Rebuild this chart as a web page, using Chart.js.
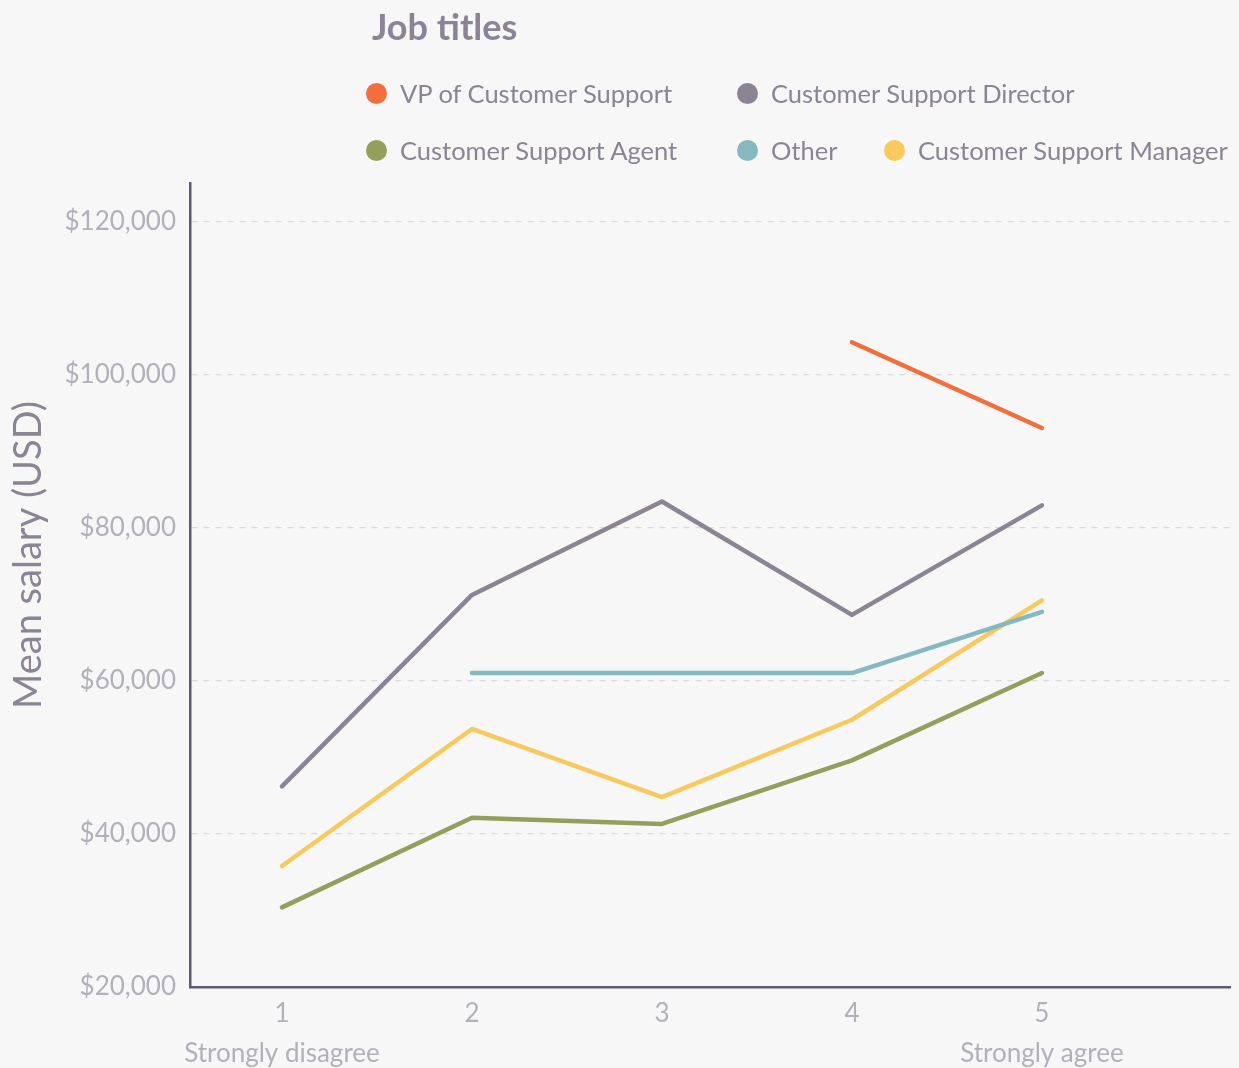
<!DOCTYPE html>
<html lang="en">
<head>
    <title>Mean salary by job title</title>
    <script src="https://cdn.jsdelivr.net/npm/chart.js@4/dist/chart.umd.min.js"></script>
    <style>
        body { margin: 0; background: #f7f7f7; font-family: Lato, "Open Sans", sans-serif; }
        .wrap { position: relative; width: 1239px; height: 1068px; }
        #salaryChart { position: absolute; left: 0; top: 0; }
        .legend-title { position: absolute; left: 372px; top: 4px; font-size: 36px; font-weight: 700; color: #8a8494; }
        .legend { position: absolute; left: 366px; top: 76px; display: grid;
                  grid-template-columns: 371px 147px auto; row-gap: 23px; }
        .legend .item { display: flex; align-items: center; font-size: 25.5px; color: #8a8494; white-space: nowrap; height: 34px; }
        .legend .item.wide { grid-column: span 2; }
        .legend .dot { width: 21px; height: 21px; border-radius: 50%; margin-right: 13px; }
    </style>
</head>
<body>
<div class="wrap">
    <canvas id="salaryChart" width="1239" height="1068"></canvas>
    <div class="legend-title">Job titles</div>
    <div class="legend" id="legend"></div>
</div>

<script>
    /* agreement score on the x axis, 1 to 5 */
    const scores = [1, 2, 3, 4, 5];
    const scoreNotes = ["Strongly disagree", "", "", "", "Strongly agree"];
    const salaryTicks = [20000, 40000, 60000, 80000, 100000, 120000];
    const yTitle = "Mean salary (USD)";

    const jobTitles = ["VP of Customer Support", "Customer Support Director", "Customer Support Agent", "Other", "Customer Support Manager"];
    const jobColors = ["#f26f3d", "#8a8494", "#949f5e", "#86b8c0", "#f8c95e"];

    // mean salary per score, null where there is no answer
    const vpSalary       = [null, null, null, 104200, 93000];
    const directorSalary = [46200, 71200, 83400, 68600, 82900];
    const agentSalary    = [30400, 42100, 41300, 49600, 61000];
    const otherSalary    = [null, 61000, 61000, 61000, 69000];
    const managerSalary  = [35800, 53700, 44800, 54900, 70500];

    const allSalaries = [vpSalary, directorSalary, agentSalary, otherSalary, managerSalary];

    /* legend as plain html, two rows */
    const legendEl = document.getElementById("legend");
    jobTitles.forEach((name, i) => {
        const item = document.createElement("div");
        item.className = "item" + (i === 1 ? " wide" : "");
        item.innerHTML = '<span class="dot" style="background:' + jobColors[i] + '"></span>' + name;
        legendEl.appendChild(item);
    });

    const tickColor = "#b3b0ba";
    const axisColor = "#5f5a6e";

    /* y axis title, drawn by hand so it can sit a bit above the middle */
    const yTitlePlugin = {
        id: "yTitle",
        afterDraw(chart) {
            const c = chart.ctx;
            const area = chart.chartArea;
            c.save();
            c.translate(29, (area.top + area.bottom) / 2 - 30);
            c.rotate(-Math.PI / 2);
            c.font = "38px Lato";
            c.fillStyle = "#8a8494";
            c.textAlign = "center";
            c.textBaseline = "middle";
            c.fillText(yTitle, 0, 0);
            c.restore();
        }
    };

    let ctx = document.getElementById("salaryChart").getContext("2d");

    let salaryChart = new Chart(ctx, {
        type: "line",
        data: {
            datasets: jobTitles.map((name, i) => ({
                label: name,
                data: scores.map((s, j) => ({ x: s, y: allSalaries[i][j] })),
                borderColor: jobColors[i],
                backgroundColor: jobColors[i],
                borderWidth: 4.5,
                borderCapStyle: "round",
                borderJoinStyle: "round",
                pointRadius: 0,
                tension: 0,
                spanGaps: false
            }))
        },
        options: {
            responsive: false,
            animation: false,
            events: [],
            layout: { padding: { top: 183, right: 9, left: 0, bottom: 0 } },
            plugins: {
                legend: { display: false },
                tooltip: { enabled: false }
            },
            scales: {
                x: {
                    type: "linear",
                    min: 0.516,
                    max: 5.99,
                    afterBuildTicks: (scale) => { scale.ticks = scores.map(v => ({ value: v })); },
                    afterFit: (scale) => { scale.height = 81; },
                    border: { display: true, color: axisColor, width: 2.5 },
                    grid: { display: false, drawTicks: false },
                    ticks: {
                        color: tickColor,
                        padding: 7,
                        maxRotation: 0,
                        autoSkip: false,
                        font: { family: "Lato", size: 26, lineHeight: 1.53 },
                        callback: (value) => {
                            const i = scores.indexOf(value);
                            return scoreNotes[i] ? [String(value), scoreNotes[i]] : String(value);
                        }
                    }
                },
                y: {
                    min: 20000,
                    max: 125000,
                    afterBuildTicks: (scale) => { scale.ticks = salaryTicks.map(v => ({ value: v })); },
                    afterFit: (scale) => { scale.width = 190; },
                    border: { display: true, color: axisColor, width: 2.5, dash: [6, 6] },
                    grid: {
                        drawTicks: false,
                        color: (c) => c.tick && c.tick.value === 20000 ? "rgba(0,0,0,0)" : "#d9d9e2",
                        lineWidth: 1.2
                    },
                    ticks: {
                        font: { family: "Lato", size: 26 },
                        color: tickColor,
                        padding: 14,
                        callback: (value) => "$" + value.toLocaleString("en-US")
                    }
                }
            }
        },
        plugins: [yTitlePlugin]
    });
</script>
</body>
</html>
